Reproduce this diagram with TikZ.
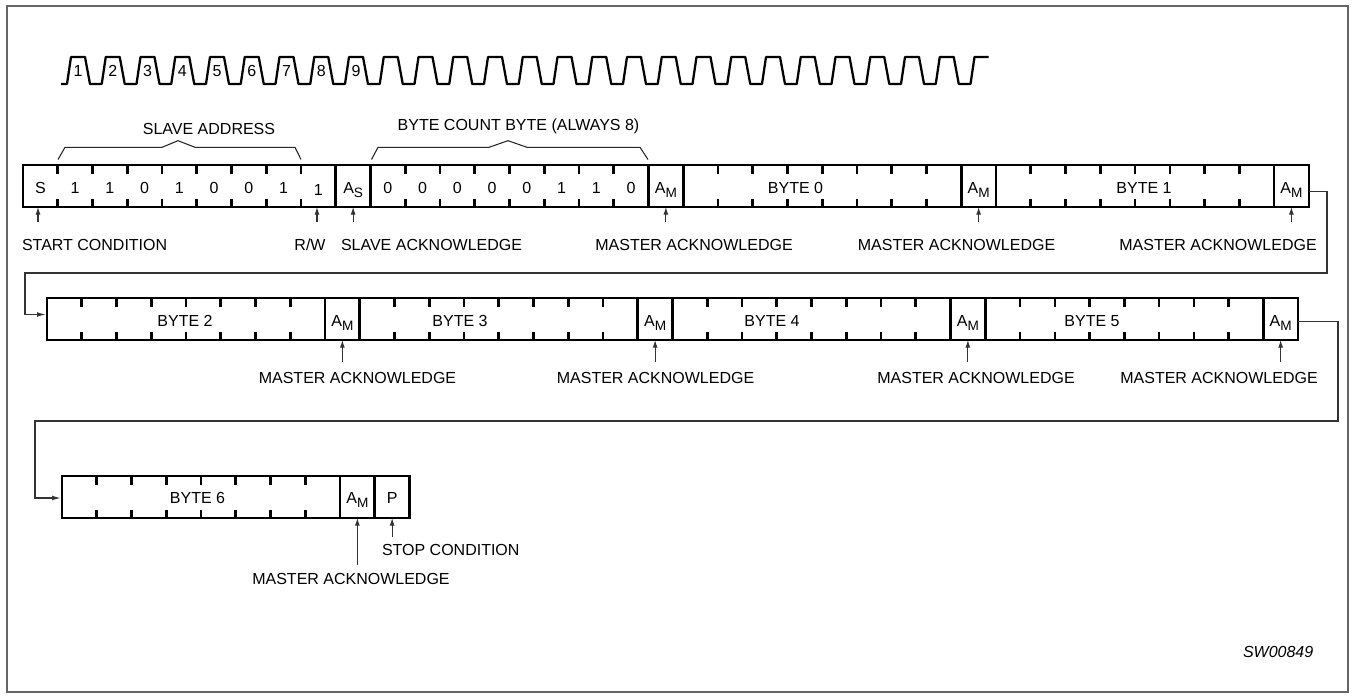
\documentclass[tikz,border=0pt]{standalone}
\usepackage{fontspec}
\setmainfont{Liberation Sans}
\usetikzlibrary{arrows.meta,calc}
\newcommand\subAM{A\raisebox{-3.3pt}{\fontsize{10.2}{12}\selectfont M}}
\newcommand\subAS{A\raisebox{-3.3pt}{\fontsize{10.2}{12}\selectfont S}}
\newcommand\bitticks[2]{\foreach \k in {1,...,#2}{\draw[tickln] ($(#1.north west)+(\k*34.75,0)$) -- ++(0,8.5); \draw[tickln] ($(#1.south west)+(\k*34.75,0)$) -- ++(0,-8.5);}}
\begin{document}
\begin{tikzpicture}[x=0.75pt,y=-0.75pt,
  font=\fontsize{12}{14.4}\selectfont,
  field/.style={draw, line width=1.9pt, inner sep=0pt, outer sep=0pt,
    minimum height=31.5pt, minimum width=#1*26.0625pt, anchor=west},
  tickln/.style={line width=1.9pt},
  lbl/.style={anchor=base, inner sep=0pt, outer sep=0pt},
  lblw/.style={anchor=base west, inner sep=0pt, outer sep=0pt},
  ptr/.style={line width=0.8pt, draw=black!80, -{Latex[length=5.8pt,width=3.8pt]}},
  conn/.style={line width=0.85pt, draw=black!80},
  bracket/.style={line width=0.8pt, draw=black!85},
  clk/.style={line width=1.7pt, line join=round},
]
\useasboundingbox (0,0) rectangle (1355,699);
\draw[line width=0.9pt, draw=black!60] (7,6) rectangle (1348,692);

% clock
\draw[clk] (61,84) \foreach \k in {0,...,25} { -- ({67+\k*34.75},84) -- ({71+\k*34.75},57) -- ({85+\k*34.75},57) -- ({90+\k*34.75},84) } -- ({67+26*34.75},84) -- ({71+26*34.75},57) -- ({85+26*34.75},57);
\foreach \k in {1,...,9} { \node[lbl] (n\k) at ({67+(\k-1)*34.75+11},77) {\k}; }

% brackets
\draw[bracket] (58,159.5) -- (65,147.3) -- (162,147.3) -- (178,140.7) -- (195,147.3) -- (295,147.3) -- (301,159.5);
\draw[bracket] (371.5,159.5) -- (378,147.3) -- (489,147.3) -- (508,140.7) -- (527,147.3) -- (640,147.3) -- (648,159.5);
\node[lbl] (tsa) at (209,134) {SLAVE ADDRESS};
\node[lbl] (tbc) at (518.5,130) {BYTE COUNT BYTE (ALWAYS 8)};

% row 1
\node[field=9] (addr) at (23,186) {};
\node[field=1] (as) at (addr.east) {};
\node[field=8] (cnt) at (as.east) {};
\node[field=1] (am1) at (cnt.east) {};
\node[field=8] (b0) at (am1.east) {};
\node[field=1] (am2) at (b0.east) {};
\node[field=8] (b1) at (am2.east) {};
\node[field=1] (am3) at (b1.east) {};
\bitticks{addr}{8}
\bitticks{cnt}{7}
\bitticks{b0}{7}
\bitticks{b1}{7}
\node[lbl] (tS) at ($(addr.west)+(17.375,7)$) {S};
\foreach \b [count=\i] in {1,1,0,1,0,0,1} { \node[lbl] (ta\i) at ($(addr.west)+(\i*34.75+17.375,7)$) {\b}; }
\node[lbl] (trw) at ($(addr.west)+(8*34.75+17.375,9.5)$) {1};
\node[lbl] (tas) at ($(as)+(0,7)$) {\subAS};
\foreach \b [count=\i] in {0,0,0,0,0,1,1,0} { \node[lbl] (tc\i) at ($(cnt.west)+(\i*34.75-17.375,7)$) {\b}; }
\node[lbl] (tam1) at ($(am1)+(0,7)$) {\subAM};
\node[lbl] (tb0) at (795.5,193) {BYTE 0};
\node[lbl] (tam2) at ($(am2)+(0,7)$) {\subAM};
\node[lbl] (tb1) at (1144,193) {BYTE 1};
\node[lbl] (tam3) at ($(am3)+(0,7)$) {\subAM};

% row 2
\node[field=8] (b2) at (47,319) {};
\node[field=1] (am4) at (b2.east) {};
\node[field=8] (b3) at (am4.east) {};
\node[field=1] (am5) at (b3.east) {};
\node[field=8] (b4) at (am5.east) {};
\node[field=1] (am6) at (b4.east) {};
\node[field=8] (b5) at (am6.east) {};
\node[field=1] (am7) at (b5.east) {};
\bitticks{b2}{7}
\bitticks{b3}{7}
\bitticks{b4}{7}
\bitticks{b5}{7}
\node[lbl] (tb2) at (185,326) {BYTE 2};
\node[lbl] (tam4) at ($(am4)+(0,7)$) {\subAM};
\node[lbl] (tb3) at (460,326) {BYTE 3};
\node[lbl] (tam5) at ($(am5)+(0,7)$) {\subAM};
\node[lbl] (tb4) at (772,326) {BYTE 4};
\node[lbl] (tam6) at ($(am6)+(0,7)$) {\subAM};
\node[lbl] (tb5) at (1092,326) {BYTE 5};
\node[lbl] (tam7) at ($(am7)+(0,7)$) {\subAM};

% row 3
\node[field=8] (b6) at (62,497) {};
\node[field=1] (am8) at (b6.east) {};
\node[field=1] (pp) at (am8.east) {};
\bitticks{b6}{7}
\node[lbl] (tb6) at (197.5,503.5) {BYTE 6};
\node[lbl] (tam8) at ($(am8)+(0,6.5)$) {\subAM};
\node[lbl] (tp) at ($(pp)+(0,6.5)$) {P};

% row 1 labels and pointers
\node[lblw] (lstart) at (22,250) {START CONDITION};
\node[lbl] (lrw) at (310,250) {R/W};
\node[lblw] (lsack) at (341,250) {SLAVE ACKNOWLEDGE};
\node[lbl] (lm1) at (694,250) {MASTER ACKNOWLEDGE};
\node[lbl] (lm2) at (956.5,250) {MASTER ACKNOWLEDGE};
\node[lbl] (lm3) at (1218,250) {MASTER ACKNOWLEDGE};
\coordinate (pS) at (38,222);
\coordinate (pRW) at (317,222);
\draw[ptr] (pS) -- (pS |- addr.south);
\draw[ptr] (pRW) -- (pRW |- addr.south);
\draw[ptr] ($(as.south)+(0,15)$) -- (as.south);
\draw[ptr] ($(am1.south)+(0,15)$) -- (am1.south);
\draw[ptr] ($(am2.south)+(0,15)$) -- (am2.south);
\draw[ptr] ($(am3.south)+(0,15)$) -- (am3.south);

% row 2 labels and pointers
\node[lbl] (lm4) at (357.5,383) {MASTER ACKNOWLEDGE};
\node[lbl] (lm5) at (655.5,383) {MASTER ACKNOWLEDGE};
\node[lbl] (lm6) at (976,383) {MASTER ACKNOWLEDGE};
\node[lbl] (lm7) at (1219,383) {MASTER ACKNOWLEDGE};
\draw[ptr] ($(am4.south)+(0,22)$) -- (am4.south);
\draw[ptr] ($(am5.south)+(0,22)$) -- (am5.south);
\draw[ptr] ($(am6.south)+(0,22)$) -- (am6.south);
\draw[ptr] ($(am7.south)+(0,22)$) -- (am7.south);

% row 3 labels and pointers
\node[lblw] (lstop) at (382,555) {STOP CONDITION};
\node[lbl] (lm8) at (351,584) {MASTER ACKNOWLEDGE};
\draw[ptr] ($(am8.south)+(0,47)$) -- (am8.south);
\draw[ptr] ($(pp.south)+(0,19)$) -- (pp.south);

% row links
\coordinate (k1) at (1327,273);
\coordinate (k2) at (25,314.5);
\draw[conn,-{Latex[length=6.5pt,width=3.6pt]}] ($(am3.east)+(0,5.5)$) -| (k1) -| (k2) -- ($(b2.west)+(-1.3,-4.5)$);
\coordinate (k3) at (1338,421);
\coordinate (k4) at (35,498);
\draw[conn,-{Latex[length=6.5pt,width=3.6pt]}] ($(am7.east)+(0,2.5)$) -| (k3) -| (k4) -- ($(b6.west)+(-1.3,1)$);

\node[lblw, font=\fontsize{12}{14.4}\selectfont\itshape] (code) at (1243,657) {SW00849};
\end{tikzpicture}
\end{document}
